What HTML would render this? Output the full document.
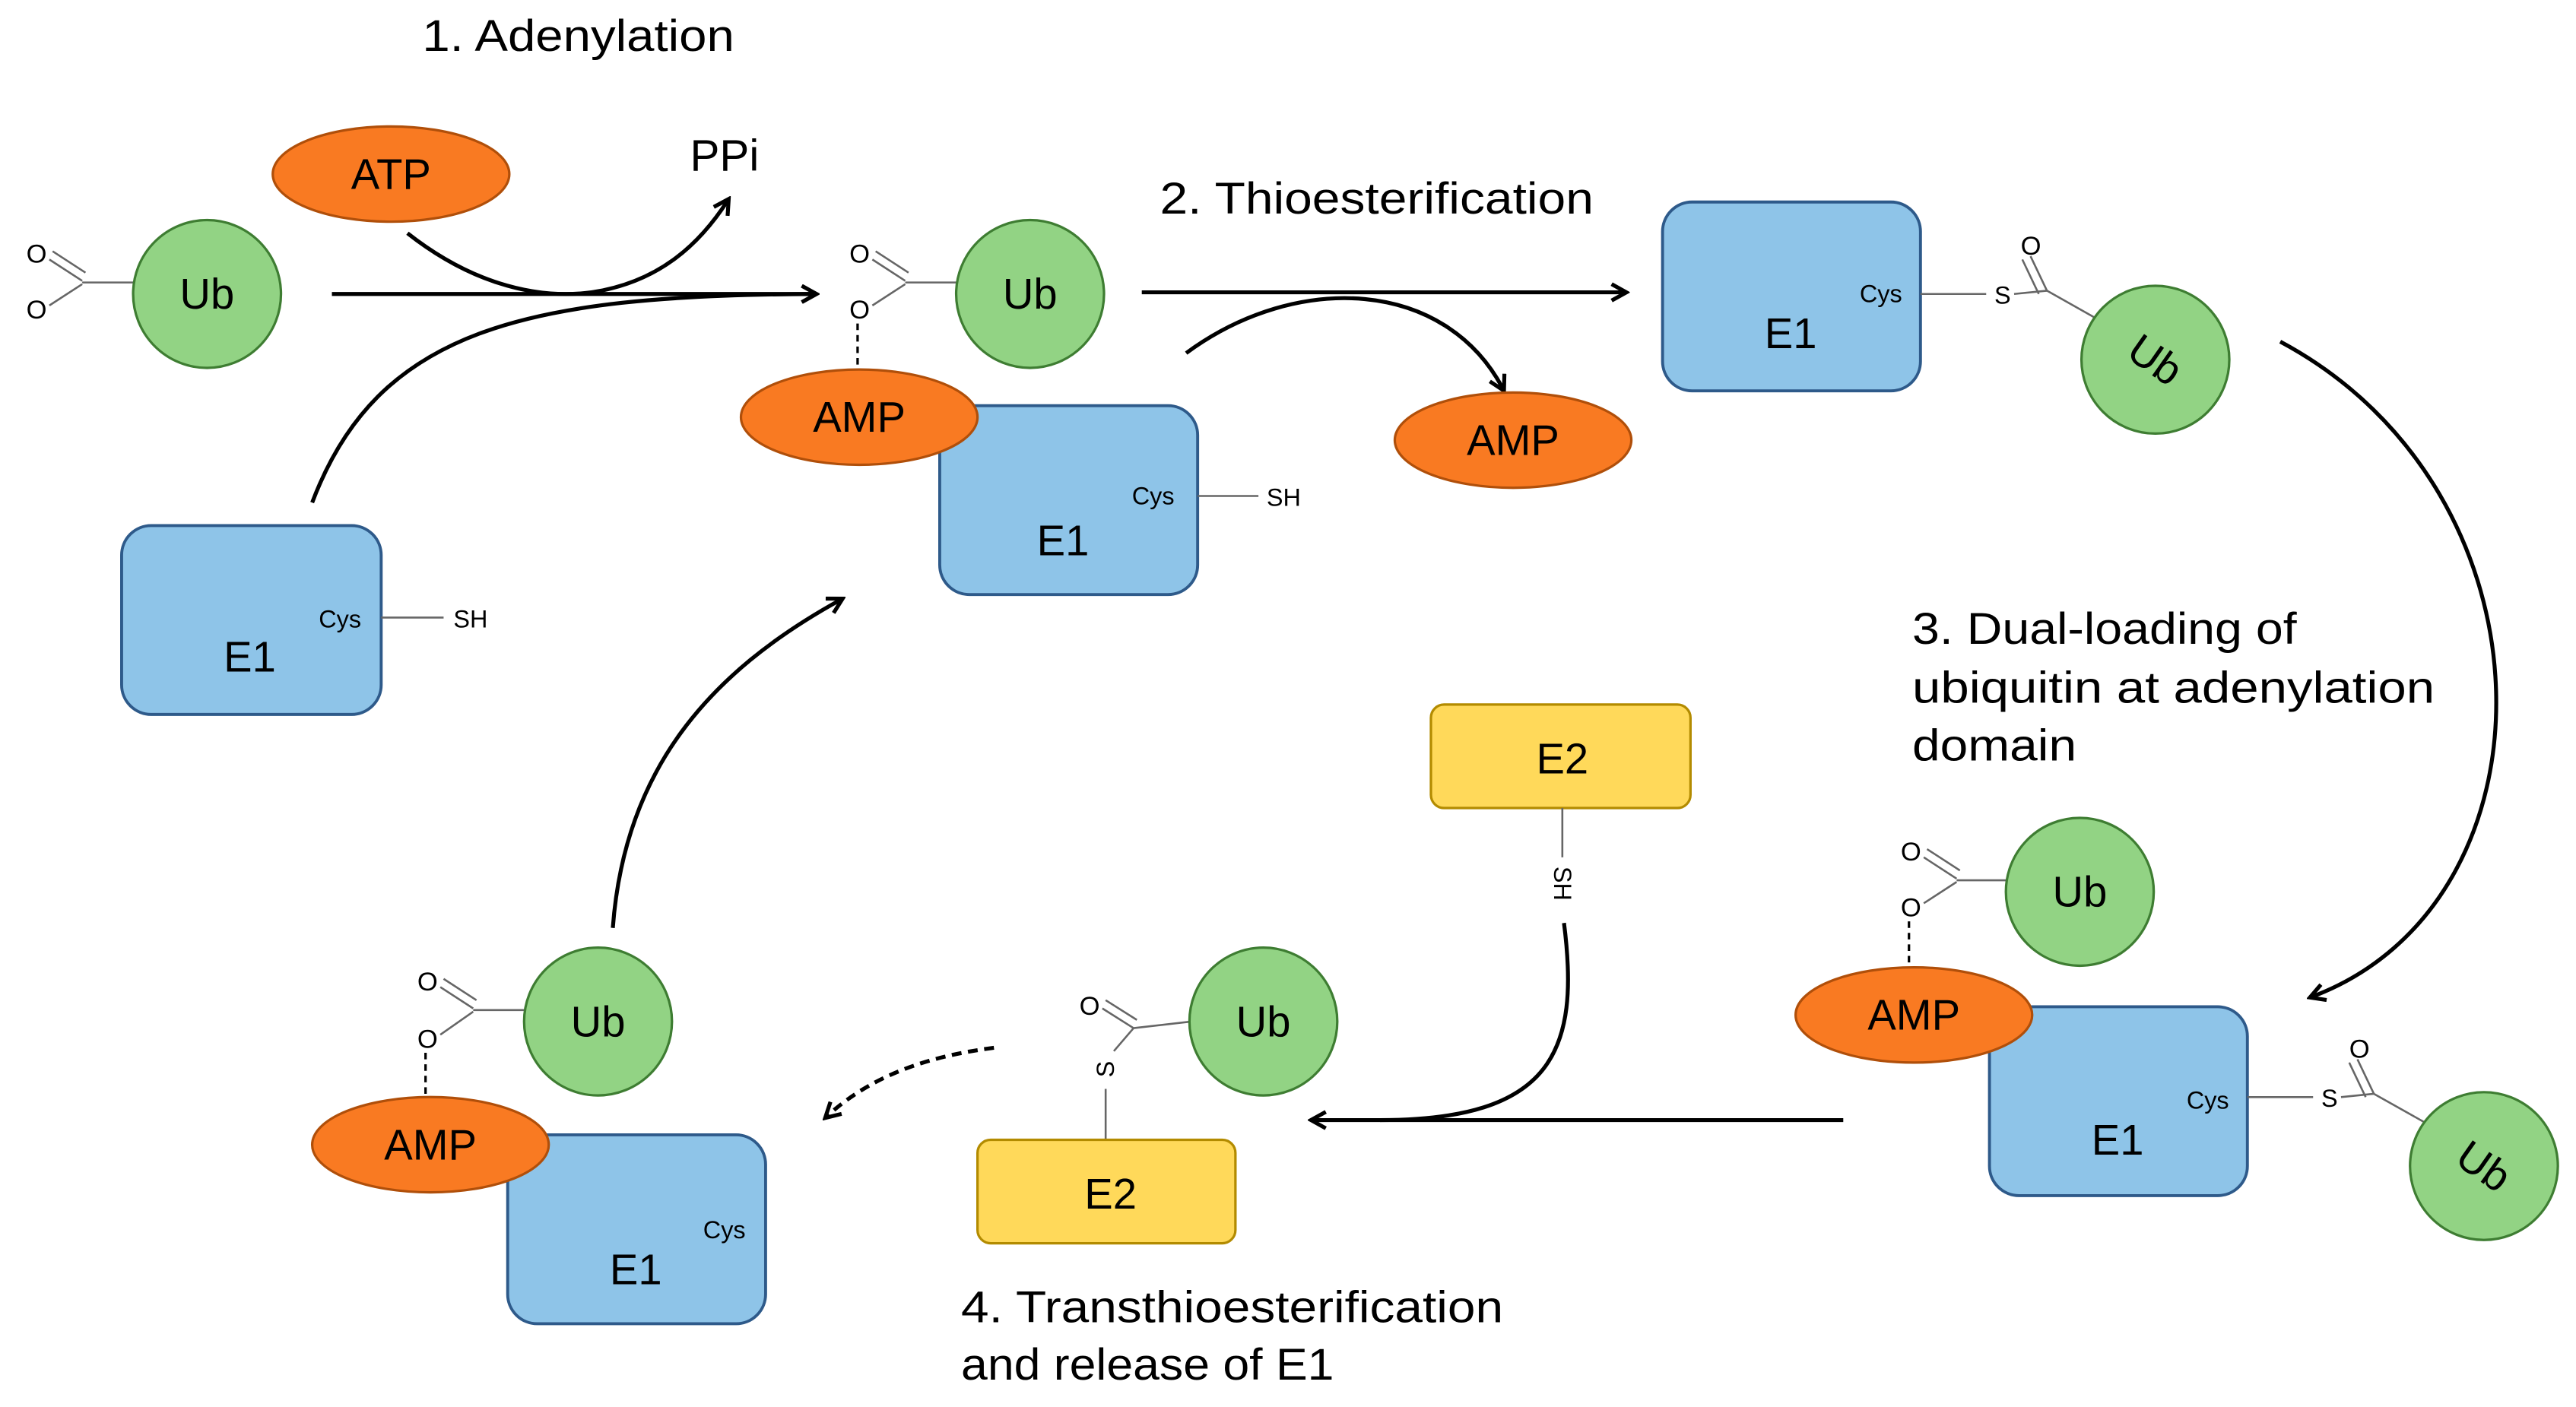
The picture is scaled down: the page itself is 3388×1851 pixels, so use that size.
<!DOCTYPE html>
<html><head><meta charset="utf-8"><style>
html,body{margin:0;padding:0;background:#fff;}
svg{display:block;}
text{font-family:"Liberation Sans",sans-serif;fill:#000;}
.big{font-size:27px;}
.lbl{font-size:26px;}
.sm{font-size:15px;}
.o{font-size:16px;}
.ub{fill:#92D384;stroke:#3E7D32;stroke-width:1.5;}
.amp{fill:#F97A22;stroke:#B04F0A;stroke-width:1.5;}
.e1{fill:#8EC4E8;stroke:#2E5A8A;stroke-width:1.8;}
.e2{fill:#FFD95A;stroke:#B38B00;stroke-width:1.5;}
.bond{stroke:#666;stroke-width:1.2;fill:none;}
.arr{stroke:#000;stroke-width:2.4;fill:none;marker-end:url(#ah);}
</style></head><body>
<svg width="3388" height="1851" viewBox="0 0 1568 856.7" xmlns="http://www.w3.org/2000/svg">
<defs><marker id="ah" markerWidth="12" markerHeight="12" refX="9" refY="6" orient="auto" markerUnits="userSpaceOnUse"><path d="M1,1 L10,6 L1,11" fill="none" stroke="#000" stroke-width="2.4"/></marker></defs>

<text x="257" y="31" class="big" textLength="190" lengthAdjust="spacingAndGlyphs">1. Adenylation</text>
<ellipse cx="238" cy="106" rx="72" ry="29" class="amp"/><text x="238" y="115" class="lbl" text-anchor="middle">ATP</text>
<text x="420" y="104" class="big">PPi</text>
<path d="M248,142 C290,175 330,182 360,178 C400,172 425,150 443,122" class="arr"/>

<text x="16" y="160" class="o">O</text><text x="16" y="194" class="o">O</text>
<path d="M30,158 L50,171 M32,153 L52,166 M30,186 L50,173 M50,172 L82,172" class="bond"/>
<circle cx="126" cy="179" r="45" class="ub"/><text x="126" y="188" class="lbl" text-anchor="middle">Ub</text>
<path d="M202,179 L496,179" class="arr"/>
<path d="M190,306 C230,200 320,180 494,179" class="arr" style="marker-end:none"/>

<rect x="74" y="320" width="158" height="115" rx="18" class="e1"/>
<text x="194" y="382" class="sm">Cys</text><text x="152" y="409" class="lbl" text-anchor="middle">E1</text>
<path d="M232,376 L270,376" class="bond"/><text x="276" y="382" class="sm">SH</text>

<text x="517" y="160" class="o">O</text><text x="517" y="194" class="o">O</text>
<path d="M531,158 L551,171 M533,153 L553,166 M531,186 L551,173 M551,172 L583,172" class="bond"/>
<circle cx="627" cy="179" r="45" class="ub"/><text x="627" y="188" class="lbl" text-anchor="middle">Ub</text>
<path d="M522,197 L522,228" stroke="#000" stroke-width="1.5" stroke-dasharray="4,3"/>
<rect x="572" y="247" width="157" height="115" rx="18" class="e1"/>
<ellipse cx="523" cy="254" rx="72" ry="29" class="amp"/><text x="523" y="263" class="lbl" text-anchor="middle">AMP</text>
<text x="689" y="307" class="sm">Cys</text><text x="647" y="338" class="lbl" text-anchor="middle">E1</text>
<path d="M729,302 L766,302" class="bond"/><text x="771" y="308" class="sm">SH</text>

<text x="706" y="130" class="big" textLength="264" lengthAdjust="spacingAndGlyphs">2. Thioesterification</text>
<path d="M695,178 L989,178" class="arr"/>
<path d="M722,215 C790,165 880,170 915,237" class="arr"/>
<ellipse cx="921" cy="268" rx="72" ry="29" class="amp"/><text x="921" y="277" class="lbl" text-anchor="middle">AMP</text>

<rect x="1012" y="123" width="157" height="115" rx="18" class="e1"/>
<text x="1132" y="184" class="sm">Cys</text><text x="1090" y="212" class="lbl" text-anchor="middle">E1</text>
<path d="M1169,179 L1209,179" class="bond"/><text x="1214" y="185" class="sm">S</text>
<path d="M1226,179 L1246,177 M1246,177 L1236,156 M1241,179 L1231,158 M1246,177 L1278,195" class="bond"/>
<text x="1230" y="155" class="o">O</text>
<circle cx="1312" cy="219" r="45" class="ub"/><text x="1312" y="228" class="lbl" text-anchor="middle" transform="rotate(35 1312 219)">Ub</text>
<path d="M1388,208 C1560,300 1560,550 1407,607" class="arr"/>

<text x="1164" y="392" class="big" textLength="234" lengthAdjust="spacingAndGlyphs">3. Dual-loading of</text>
<text x="1164" y="428" class="big" textLength="318" lengthAdjust="spacingAndGlyphs">ubiquitin at adenylation</text>
<text x="1164" y="463" class="big" textLength="100" lengthAdjust="spacingAndGlyphs">domain</text>

<text x="1157" y="524" class="o">O</text><text x="1157" y="558" class="o">O</text>
<path d="M1171,522 L1191,535 M1173,517 L1193,530 M1171,550 L1191,537 M1191,536 L1222,536" class="bond"/>
<circle cx="1266" cy="543" r="45" class="ub"/><text x="1266" y="552" class="lbl" text-anchor="middle">Ub</text>
<path d="M1162,561 L1162,590" stroke="#000" stroke-width="1.5" stroke-dasharray="4,3"/>
<rect x="1211" y="613" width="157" height="115" rx="18" class="e1"/>
<ellipse cx="1165" cy="618" rx="72" ry="29" class="amp"/><text x="1165" y="627" class="lbl" text-anchor="middle">AMP</text>
<text x="1331" y="675" class="sm">Cys</text><text x="1289" y="703" class="lbl" text-anchor="middle">E1</text>
<path d="M1368,668 L1408,668" class="bond"/><text x="1413" y="674" class="sm">S</text>
<path d="M1425,668 L1445,666 M1445,666 L1435,645 M1440,668 L1430,647 M1445,666 L1477,684" class="bond"/>
<text x="1430" y="644" class="o">O</text>
<circle cx="1512" cy="710" r="45" class="ub"/><text x="1512" y="719" class="lbl" text-anchor="middle" transform="rotate(35 1512 710)">Ub</text>

<rect x="871" y="429" width="158" height="63" rx="8" class="e2"/><text x="951" y="471" class="lbl" text-anchor="middle">E2</text>
<path d="M951,492 L951,522" class="bond"/>
<text x="951" y="538" class="sm" text-anchor="middle" transform="rotate(90 951 538)" dy="5">SH</text>
<path d="M952,562 C962,640 945,682 840,682" stroke="#000" stroke-width="2.4" fill="none"/>
<path d="M1122,682 L799,682" class="arr"/>

<text x="657" y="618" class="o">O</text>
<path d="M671,614 L690,626 M673,609 L692,621 M690,626 L725,622 M690,626 L678,640" class="bond"/>
<text x="673" y="651" class="sm" text-anchor="middle" transform="rotate(-90 673 651)" dy="5">S</text>
<circle cx="769" cy="622" r="45" class="ub"/><text x="769" y="631" class="lbl" text-anchor="middle">Ub</text>
<path d="M673,663 L673,694" class="bond"/>
<rect x="595" y="694" width="157" height="63" rx="8" class="e2"/><text x="676" y="736" class="lbl" text-anchor="middle">E2</text>
<path d="M605,638 C565,643 530,655 503,680" class="arr" stroke-dasharray="6,4"/>

<text x="254" y="603" class="o">O</text><text x="254" y="638" class="o">O</text>
<path d="M268,601 L288,614 M270,596 L290,609 M268,630 L288,616 M288,615 L320,615" class="bond"/>
<circle cx="364" cy="622" r="45" class="ub"/><text x="364" y="631" class="lbl" text-anchor="middle">Ub</text>
<path d="M259,641 L259,668" stroke="#000" stroke-width="1.5" stroke-dasharray="4,3"/>
<rect x="309" y="691" width="157" height="115" rx="18" class="e1"/>
<ellipse cx="262" cy="697" rx="72" ry="29" class="amp"/><text x="262" y="706" class="lbl" text-anchor="middle">AMP</text>
<text x="428" y="754" class="sm">Cys</text><text x="387" y="782" class="lbl" text-anchor="middle">E1</text>
<path d="M373,565 C380,470 430,410 512,365" class="arr"/>

<text x="585" y="805" class="big" textLength="330" lengthAdjust="spacingAndGlyphs">4. Transthioesterification</text>
<text x="585" y="840" class="big" textLength="227" lengthAdjust="spacingAndGlyphs">and release of E1</text>
</svg>
</body></html>
